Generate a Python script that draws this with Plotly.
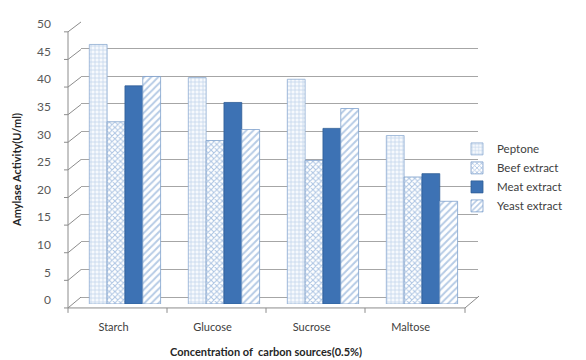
import plotly.graph_objects as go

categories = ["Starch", "Glucose", "Sucrose", "Maltose"]
peptone = [47.0, 41.0, 40.7, 30.5]
beef_extract = [33.0, 29.6, 26.0, 23.0]
meat_extract = [39.5, 36.5, 31.8, 23.6]
yeast_extract = [41.2, 31.6, 35.4, 18.6]
y_ticks = [0, 5, 10, 15, 20, 25, 30, 35, 40, 45, 50]

W, H = 586, 360
L, R, T, B = 73, 470, 8, 296  # plot area pixels (back wall)
x0 = -0.444
x1 = x0 + (R - L) / 99.0
ytop = (B - T) / 5.6

def px(p):
    return (p - L) / (R - L)

def py(p):
    return (B - p) / (B - T)

xs = list(range(len(categories)))
series = [
    ("Peptone", peptone, dict(color="#f3f7fc", line=dict(color="#8eacd2", width=0.8),
                              pattern=dict(shape="+", fgcolor="#8fb1da", bgcolor="#f6f9fd", size=4, solidity=0.35))),
    ("Beef extract", beef_extract, dict(color="#ffffff", line=dict(color="#7d9fcb", width=0.8),
                                        pattern=dict(shape="x", fgcolor="#5b8bc7", bgcolor="#ffffff", size=4, solidity=0.45))),
    ("Meat extract", meat_extract, dict(color="#3d72b4", line=dict(color="#2f5d96", width=0.8))),
    ("Yeast extract", yeast_extract, dict(color="#ffffff", line=dict(color="#7d9fcb", width=0.8),
                                          pattern=dict(shape="/", fgcolor="#6e98cc", bgcolor="#ffffff", size=5, solidity=0.4))),
]

fig = go.Figure()
# invisible anchor so the back-wall grid axis (y2) is drawn
fig.add_trace(go.Scatter(x=[xs[0]], y=[y_ticks[0]], yaxis="y2", mode="markers",
                         marker=dict(opacity=0), showlegend=False, hoverinfo="skip"))
for name, vals, marker in series:
    fig.add_trace(go.Bar(x=xs, y=vals, name=name, marker=marker))

shapes = []
gray = "#8c8c8c"
shapes.append(dict(type="line", xref="paper", yref="paper", x0=px(60), x1=px(60), y0=py(300), y1=py(20),
                   line=dict(color=gray, width=1)))
for v in y_ticks:
    shapes.append(dict(type="line", xref="paper", yref="paper", x0=px(60), y0=py(300 - 5.6 * v),
                       x1=px(73), y1=py(289 - 5.58 * v), line=dict(color=gray, width=1)))
    shapes.append(dict(type="line", xref="paper", yref="paper", x0=px(56), y0=py(300 - 5.6 * v),
                       x1=px(60), y1=py(300 - 5.6 * v), line=dict(color=gray, width=1)))
shapes.append(dict(type="line", xref="paper", yref="paper", x0=px(60), x1=px(457), y0=py(300), y1=py(300),
                   line=dict(color=gray, width=1)))
shapes.append(dict(type="line", xref="paper", yref="paper", x0=px(457), x1=px(471), y0=py(300), y1=py(288),
                   line=dict(color=gray, width=1)))
for tx in [60, 159, 258, 357, 457]:
    shapes.append(dict(type="line", xref="paper", yref="paper", x0=px(tx), x1=px(tx), y0=py(300), y1=py(305),
                       line=dict(color=gray, width=1)))

fig.update_layout(
    width=W, height=H,
    margin=dict(l=L, r=W - R, t=T, b=H - B),
    paper_bgcolor="white", plot_bgcolor="rgba(0,0,0,0)",
    barmode="group", bargap=0.28, bargroupgap=0.0,
    font=dict(family="Lato, Open Sans, sans-serif", size=11, color="#404040"),
    xaxis=dict(range=[x0, x1], tickvals=[i - 0.115 for i in xs], ticktext=categories,
               showgrid=False, zeroline=False, showline=False, ticks="",
               ticklabelstandoff=15, tickfont=dict(size=11, color="#404040")),
    yaxis=dict(range=[0, ytop], tickvals=y_ticks, showgrid=False, zeroline=False, showline=False,
               ticks="", ticklabelshift=-4, ticklabelstandoff=29,
               tickfont=dict(size=12, color="#595959")),
    yaxis2=dict(overlaying="y", range=[-1.25, ytop - 1.25], tickvals=y_ticks, showgrid=True,
                gridcolor="#a6a6a6", gridwidth=1, showticklabels=False, zeroline=False, ticks="",
                showline=False),
    legend=dict(x=px(449), y=py(124), xanchor="left", yanchor="top", bgcolor="rgba(0,0,0,0)",
                font=dict(size=11.5, color="#404040"), tracegroupgap=0, itemwidth=30),
    shapes=shapes,
    annotations=[
        dict(text="<b>Amylase Activity(U/ml)</b>", xref="paper", yref="paper", x=px(9), y=py(160),
             xanchor="center", yanchor="middle",
             textangle=-90, showarrow=False, font=dict(size=11, color="#262626")),
        dict(text="<b>Concentration of  carbon sources(0.5%)</b>", xref="paper", yref="paper",
             x=px(258), y=py(344), xanchor="center", yanchor="middle",
             showarrow=False, font=dict(size=11, color="#262626")),
    ],
)

fig.write_html("out.html")
